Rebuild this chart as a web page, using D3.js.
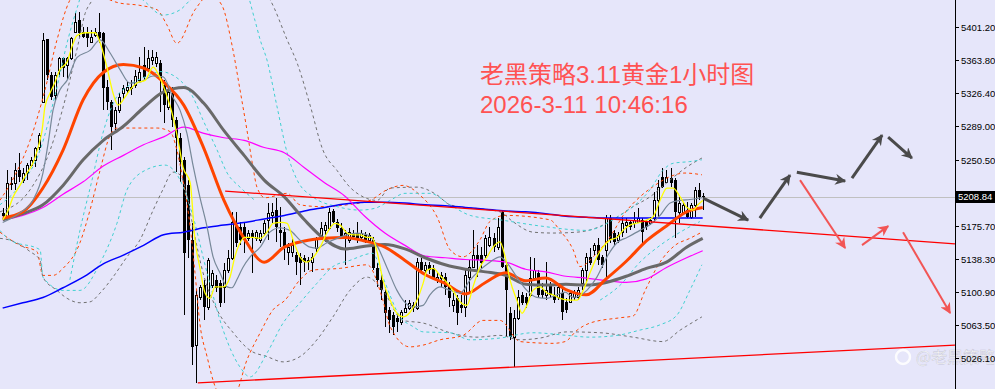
<!DOCTYPE html>
<html>
<head>
<meta charset="utf-8">
<script src="https://cdn.jsdelivr.net/npm/d3@7"></script>
<style>
body { margin: 0; background: #e6e6fa; overflow: hidden; }
</style>
</head>
<body>
<div id="chart"></div>
<script>
// ---- candle data (XAUUSD, 1 hour) ----
var opens = [5191,5186,5225,5225,5240,5228,5236,5245,5251,5265,
5316,5388,5347,5324,5353,5366,5358,5366,5396,5409,
5396,5395,5384,5392,5396,5395,5333,5316,5293,5307,
5327,5330,5333,5336,5341,5358,5355,5364,5361,5361,
5336,5311,5327,5296,5276,5251,5222,5160,5041,5095,
5109,5084,5109,5115,5111,5107,5126,5140,5177,5175,
5175,5162,5168,5162,5160,5168,5183,5188,5194,5172,
5169,5146,5146,5143,5141,5140,5138,5135,5151,5166,
5171,5174,5193,5180,5174,5162,5160,5168,5168,5163,
5166,5160,5160,5128,5115,5101,5081,5075,5072,5067,
5078,5083,5086,5083,5135,5126,5132,5128,5115,5117,
5118,5109,5086,5094,5086,5084,5118,5129,5143,5143,
5143,5154,5162,5152,5192,5132,5077,5050,5072,5098,
5095,5098,5117,5123,5103,5098,5109,5098,5095,5100,
5090,5090,5095,5095,5111,5126,5141,5149,5154,5141,
5149,5185,5168,5160,5169,5177,5180,5179,5180,5183,
5180,5179,5185,5205,5231,5226,5230,5228,5192,5192,
5194,5186,5200,5217,5210];
var highs = [5196,5239,5231,5247,5259,5242,5247,5254,5265,5281,
5395,5388,5350,5350,5367,5367,5367,5390,5417,5418,
5401,5401,5398,5400,5417,5396,5341,5319,5311,5327,
5336,5339,5341,5353,5367,5379,5375,5375,5373,5364,
5341,5332,5333,5299,5281,5254,5228,5179,5103,5109,
5115,5140,5126,5120,5115,5134,5149,5192,5192,5180,
5180,5171,5171,5172,5171,5183,5202,5202,5208,5197,
5175,5157,5162,5146,5145,5143,5141,5145,5163,5180,
5180,5196,5195,5184,5179,5171,5174,5171,5180,5171,
5169,5168,5163,5134,5120,5107,5084,5078,5077,5081,
5092,5092,5090,5140,5140,5135,5135,5132,5123,5124,
5123,5112,5100,5098,5098,5126,5137,5171,5154,5152,
5166,5175,5168,5185,5194,5134,5084,5081,5103,5101,
5100,5141,5140,5126,5111,5135,5112,5107,5109,5107,
5094,5103,5103,5107,5128,5145,5151,5157,5162,5143,
5188,5188,5171,5169,5185,5185,5183,5192,5196,5185,
5183,5186,5214,5228,5242,5239,5242,5230,5209,5202,
5203,5202,5220,5225,5213];
var lows = [5183,5185,5217,5217,5226,5225,5228,5243,5243,5262,
5315,5341,5319,5319,5345,5345,5341,5364,5395,5390,
5389,5379,5383,5390,5383,5307,5307,5262,5285,5304,
5319,5327,5324,5332,5339,5341,5350,5358,5356,5305,
5293,5307,5288,5237,5226,5075,5140,5018,4998,5092,
5069,5081,5106,5101,5084,5089,5123,5137,5152,5154,
5145,5159,5123,5159,5157,5165,5160,5179,5158,5152,
5137,5132,5141,5120,5109,5124,5126,5124,5146,5162,
5158,5171,5179,5169,5162,5132,5157,5160,5157,5160,
5157,5157,5126,5107,5092,5061,5055,5052,5056,5064,
5077,5081,5078,5081,5124,5123,5122,5115,5111,5107,
5098,5084,5078,5064,5077,5073,5100,5128,5118,5128,
5140,5152,5146,5149,5128,5050,5047,5016,5069,5086,
5083,5095,5115,5095,5094,5092,5095,5089,5092,5069,
5077,5089,5092,5092,5103,5112,5132,5143,5132,5128,
5118,5157,5154,5157,5163,5168,5171,5174,5179,5157,
5171,5177,5180,5185,5219,5225,5220,5162,5179,5188,
5185,5184,5186,5205,5194];
var closes = [5187,5225,5222,5239,5231,5236,5245,5251,5264,5279,
5387,5347,5322,5347,5366,5355,5366,5389,5407,5395,
5390,5389,5390,5396,5389,5332,5316,5288,5307,5322,
5332,5333,5331,5346,5350,5345,5366,5367,5367,5341,
5313,5328,5296,5276,5248,5145,5160,5039,5098,5107,
5084,5137,5123,5106,5089,5126,5140,5180,5157,5160,
5160,5168,5162,5169,5168,5179,5191,5192,5175,5168,
5152,5152,5154,5135,5134,5135,5135,5141,5162,5174,
5177,5192,5180,5174,5163,5168,5169,5163,5162,5168,
5160,5166,5128,5115,5103,5077,5069,5061,5067,5078,
5083,5089,5083,5135,5126,5132,5126,5117,5118,5120,
5107,5094,5092,5077,5083,5120,5129,5143,5137,5134,
5162,5163,5152,5175,5129,5103,5050,5072,5095,5089,
5089,5117,5126,5098,5098,5103,5098,5092,5107,5078,
5081,5100,5100,5103,5126,5141,5134,5154,5137,5132,
5185,5160,5158,5166,5179,5180,5175,5183,5185,5169,
5175,5183,5205,5220,5220,5231,5225,5192,5202,5200,
5186,5200,5217,5209,5208.84];
var lastPrice = 5208.84;

// ---- moving averages, [bar index, price] ----
var maYellow = [[0,5183],[1.1,5191],[2.6,5209],[4.3,5222],[6,5236],[7.5,5247],[8.8,5265],[9.8,5285],[10.5,5311],[11.8,5327],
[13,5339],[14.2,5353],[16,5362],[17.2,5379],[18.5,5392],[20.5,5395],[23,5395],[24.2,5384],[25.9,5356],[27.4,5327],
[28.7,5313],[30.4,5322],[31.6,5330],[33.4,5338],[35.4,5341],[37.4,5356],[38.6,5349],[40.3,5330],[42.1,5304],[43.6,5273],
[44.8,5243],[46.6,5225],[47.8,5160],[49,5129],[50.3,5100],[51.5,5094],[52.8,5107],[54.8,5107],[56.5,5118],[57.7,5141],
[59,5157],[60.2,5163],[62.2,5163],[64,5162],[65.7,5169],[67.2,5179],[69.4,5180],[70.7,5179],[72.2,5160],[73.9,5141],
[75.6,5135],[77.1,5140],[78.9,5152],[80.6,5168],[82.6,5179],[83.9,5177],[85.6,5168],[87.1,5166],[88.8,5166],[90.6,5163],
[91.8,5163],[93.1,5146],[94.5,5115],[96.3,5092],[98,5077],[99.5,5073],[101.2,5078],[103,5092],[104.5,5111],[105.5,5126],
[107,5128],[108.7,5120],[110.4,5112],[111.9,5103],[113.7,5090],[115.4,5086],[116.9,5107],[118.6,5129],[120.4,5141],[121.9,5152],
[123.6,5158],[124.9,5141],[126.1,5115],[127.8,5092],[129.1,5077],[130.3,5086],[131.8,5103],[133.6,5107],[135.3,5100],[136.8,5098],
[138.5,5094],[141,5092],[142.8,5092],[144.3,5103],[146,5123],[147.7,5141],[149.2,5152],[150.9,5160],[152.7,5163],[154.2,5171],
[155.9,5177],[158.4,5180],[160.2,5183],[161.6,5186],[163.4,5205],[165.1,5219],[166.6,5219],[168.4,5209],[170.1,5197],[171.6,5194],
[172.8,5200],[174,5205]];
var maSlate = [[0,5180],[4.3,5191],[7.5,5205],[10,5236],[11.3,5270],[12.5,5307],[14.2,5330],[16,5341],[18.5,5367],[21.7,5375],
[24.2,5387],[26.7,5372],[29.2,5353],[31.6,5338],[34.1,5339],[37.4,5346],[39.9,5345],[42.3,5322],[44.1,5307],[45.8,5281],
[47.3,5245],[49,5209],[50.8,5175],[52.3,5141],[54,5123],[55.8,5107],[57,5106],[58.2,5115],[59.7,5129],[61.5,5141],
[64,5152],[66.4,5169],[68.9,5174],[71.4,5171],[73.9,5160],[76.4,5152],[78.1,5151],[80.6,5157],[83.1,5162],[85.6,5166],
[88.1,5168],[90.6,5166],[93,5154],[95.5,5129],[98,5103],[99.5,5092],[102,5084],[104.5,5086],[106.2,5098],[108.7,5107],
[111.2,5103],[113.7,5100],[116.2,5115],[118.6,5126],[121.1,5135],[123.6,5141],[125.4,5134],[127.8,5118],[130.3,5103],[132.8,5095],
[135.3,5094],[137.8,5098],[139.8,5101],[141.8,5095],[145.2,5103],[147.7,5118],[150.2,5141],[152.7,5157],[155.2,5163],[158.4,5171],
[161.6,5180],[163.4,5188],[165.9,5202],[168.4,5205],[170.8,5206],[174,5208]];
var maOrange = [[0,5185],[5,5192],[10,5219],[15,5262],[20,5319],[25,5350],[30,5359],[35,5355],[40,5339],[45,5313],
[50,5264],[55,5205],[60,5162],[65,5135],[70,5152],[75,5159],[80,5162],[85,5163],[90,5159],[95,5152],
[100,5137],[105,5121],[110,5111],[115,5099],[120,5112],[125,5123],[130,5114],[135,5117],[140,5104],[145,5098],
[150,5116],[155,5136],[160,5159],[165,5176],[170,5192],[174,5197]];
var maGray = [[0,5183],[5,5190],[10,5200],[15,5222],[20,5251],[25,5273],[30,5289],[35,5310],[40,5328],[45,5333],
[50,5315],[55,5284],[60,5256],[65,5228],[70,5209],[75,5183],[80,5161],[85,5150],[90,5153],[95,5155],
[100,5150],[105,5140],[110,5132],[115,5127],[120,5124],[125,5120],[130,5110],[135,5109],[140,5110],[145,5109],
[150,5112],[155,5119],[160,5128],[165,5135],[170,5152],[174,5162]];
var maMagenta = [[0,5183],[5,5188],[10,5197],[15,5212],[20,5226],[25,5244],[30,5256],[35,5268],[40,5277],[45,5288],
[50,5281],[55,5276],[60,5273],[65,5265],[70,5259],[75,5242],[80,5225],[85,5210],[90,5187],[95,5168],
[100,5154],[105,5142],[110,5140],[115,5138],[120,5137],[125,5135],[130,5127],[135,5124],[140,5119],[145,5117],
[150,5114],[155,5112],[160,5116],[165,5129],[170,5140],[174,5148]];
var maBlue = [[0,5083],[5,5089],[10,5095],[15,5106],[20,5118],[25,5133],[30,5143],[35,5154],[40,5166],[45,5169],
[50,5174],[55,5177],[60,5180],[65,5184],[70,5188],[75,5193],[80,5197],[85,5201],[90,5203],[95,5203],
[100,5202],[105,5200],[110,5199],[115,5197],[120,5195],[125,5193],[130,5192],[135,5190],[140,5187],[145,5186],
[150,5185],[174,5185]];

// ---- band lines (dashed) ----
var bandOrangeUp = [[-0.7,5205],[3.1,5234],[6.8,5273],[10.5,5330],[13.5,5387],[16.7,5432],[20.5,5449],[24.2,5438],[28.7,5429],[34.1,5426],
[38.4,5421],[40.8,5404],[43.3,5383],[47.8,5421],[51.5,5438],[54.5,5426],[57,5381],[59,5330],[60.7,5285],[62.2,5243],
[63.2,5220],[65.2,5208],[70.7,5213],[73.9,5200],[78.9,5198],[85.6,5200],[91.3,5205],[95.5,5217],[99.5,5222],[103.7,5211],
[108,5186],[111.2,5149],[114.4,5141],[118.6,5160],[121.1,5181],[124.9,5188],[136,5183],[138.5,5171],[141.8,5149],[143.5,5130],
[147.2,5143],[151,5164],[154.7,5191],[158.4,5209],[162.1,5222],[165.9,5232],[169.6,5236],[173.8,5234]];
var bandOrangeLow = [[-0.7,5169],[4.3,5154],[8.5,5147],[10,5120],[12.5,5120],[15,5128],[19.2,5157],[21.7,5194],[24.2,5239],[26.7,5279],
[28.4,5287],[38.4,5287],[41.6,5283],[43.3,5262],[44.8,5228],[46.6,5175],[47.8,5123],[49,5066],[50.8,5028],[52.8,4994],
[55.3,4979],[57.7,4984],[60.7,5024],[64,5055],[67.2,5081],[70.2,5092],[73.9,5115],[77.1,5126],[83.9,5128],[90.6,5132],
[94.5,5092],[96.3,5062],[101.2,5039],[104.5,5041],[108.7,5047],[114.4,5052],[119.4,5069],[123.6,5069],[128.6,5045],[136.8,5043],
[139.8,5045],[142.8,5058],[146,5066],[153.5,5072],[156.7,5074],[159.7,5103],[163.4,5135],[167.1,5154],[170.8,5162],[173.8,5169]];
var bandGrayUp = [[-0.7,5192],[6.8,5217],[11.8,5262],[15.5,5319],[18.7,5381],[20.5,5417],[22.2,5432],[24.2,5455],[61.5,5455],[66.5,5432],
[70.7,5387],[73.4,5358],[76.4,5313],[79.6,5262],[83.1,5239],[86.3,5220],[89.6,5209],[93,5205],[96.3,5219],[103,5220],
[108,5211],[111.2,5200],[123.6,5192],[126.8,5181],[131.8,5169],[136.8,5168],[142.8,5169],[147.7,5174],[152.7,5186],[156.7,5198],
[160.9,5209],[165.1,5225],[170.1,5243],[173.8,5253]];
var bandGrayLow = [[-0.7,5162],[1.8,5160],[6.8,5147],[9.3,5137],[10,5118],[13.5,5103],[16,5094],[19.2,5089],[21.7,5090],[24.2,5100],
[27.4,5118],[30.9,5141],[34.1,5160],[37.4,5194],[39.8,5217],[42.3,5237],[44.1,5234],[45.8,5211],[47.3,5175],[49.8,5123],
[53.3,5081],[57.3,5055],[61.5,5035],[65.7,5028],[69.7,5022],[73.9,5028],[78.1,5047],[82.1,5073],[86.3,5103],[90.6,5118],
[94.5,5103],[99.5,5069],[104.5,5066],[111.2,5055],[117.9,5050],[123.6,5052],[128.6,5047],[133.6,5049],[140.3,5056],[148.5,5055],
[156.7,5050],[164.1,5045],[168.4,5058],[173.8,5073]];
var bandTealUp = [[-0.7,5200],[4.3,5222],[9.3,5262],[13,5324],[16.2,5387],[18.7,5426],[20.5,5449],[31.6,5443],[34.9,5432],[39.8,5415],
[44.1,5421],[46.6,5432],[51.5,5449],[60.2,5443],[62.7,5409],[64,5387],[65.7,5364],[68.2,5311],[70.7,5259],[73.2,5228],
[77.1,5209],[83.1,5198],[88.8,5194],[92.5,5196],[96.3,5205],[100,5213],[106.2,5213],[111.2,5200],[116.2,5188],[123.6,5183],
[133.6,5176],[145.2,5171],[148.5,5175],[152.7,5186],[156.7,5198],[160.9,5217],[164.1,5239],[166.6,5247],[170.8,5249],[173.8,5251]];
var bandTealMid = [[16.7,5115],[19.2,5171],[22.2,5228],[24.9,5281],[27.9,5319],[31.6,5336],[36.6,5347],[39.1,5351],[44.1,5341],[47.3,5322],
[49.8,5296],[53.3,5262],[55.8,5236],[59,5220],[62.7,5205]];
var bandTealLow = [[-0.7,5171],[1.8,5160],[9.3,5149],[10,5118],[15,5103],[19.2,5103],[24.2,5134],[28.4,5179],[30.9,5217],[35.4,5239],
[40.3,5245],[44.1,5228],[46.6,5198],[50.8,5123],[54.8,5058],[59,5016],[61.5,5005],[65.7,5032],[69.7,5066],[73.9,5089],
[78.1,5111],[82.1,5130],[86.3,5137],[92,5145],[94.5,5118],[98.8,5073],[102,5062],[104.5,5056],[111.2,5055],[116.2,5047],
[123.6,5049],[131.8,5055],[140.3,5052],[146,5050],[152.7,5052],[158.4,5058],[163.4,5064],[167.6,5075],[170.8,5103],[173.8,5132]];
var bandTealInner = [[148.5,5092],[153.5,5109],[158.4,5135],[163.4,5154],[168.4,5169],[173.3,5181]];

// ---- drawn annotations: trend lines and arrows ----
var trendLines = [[[55.3,5215.5],[236.7,5155.8]], [[48.5,4998.3],[236.7,5041]]];
var grayArrows = [[[174.1,5207.6],[185.3,5182.7]], [[188.2,5185],[195.7,5233.7]], [[197.4,5237],[209.4,5226.9]],
                  [[211.1,5230.3],[218.6,5279]], [[220.1,5276.7],[226,5253]]];
var redArrows = [[[198.2,5228],[209.4,5151]], [[213.6,5154.3],[220.1,5175.9]], [[223.8,5169],[235.5,5077.3]]];

var tickValues = [5401.20,5363.80,5326.40,5289.00,5250.50,5213.10,5175.70,5138.30,5100.90,5063.50,5026.10,4988.70];
var titleLines = ["老黑策略3.11黄金1小时图", "2026-3-11 10:46:16"];
var watermark = "@老黑策略";

// ---- layout ----
var width = 995, height = 389, axisX = 955;

var svg = d3.select("#chart").append("svg")
	.attr("width", width)
	.attr("height", height)
	.style("display", "block")
	.style("background", "#e6e6fa");

var x = d3.scaleLinear().domain([0, 174]).range([2.7, 702.7]);
var y = d3.scaleLinear().domain([4988.7, 5401.2]).range([391.25, 27.27]);

svg.append("defs").append("clipPath").attr("id", "plotclip")
	.append("rect").attr("x", 0).attr("y", 0).attr("width", axisX).attr("height", height);

var plot = svg.append("g").attr("clip-path", "url(#plotclip)");

// current price line
plot.append("line")
	.attr("x1", 0).attr("x2", axisX)
	.attr("y1", Math.round(y(lastPrice)) + 0.5).attr("y2", Math.round(y(lastPrice)) + 0.5)
	.attr("stroke", "#c0c0c0").attr("stroke-width", 1);

// candles
var candles = opens.map(function(o, i){
	return {i: i, o: o, h: highs[i], l: lows[i], c: closes[i]};
});
var cg = plot.append("g").attr("shape-rendering", "crispEdges");
cg.selectAll(".wick").data(candles).enter().append("line")
	.attr("class", "wick")
	.attr("x1", function(d){ return Math.round(x(d.i)) + 0.5; })
	.attr("x2", function(d){ return Math.round(x(d.i)) + 0.5; })
	.attr("y1", function(d){ return y(Math.max(d.h, d.o, d.c)); })
	.attr("y2", function(d){ return y(Math.min(d.l, d.o, d.c)); })
	.attr("stroke", "black").attr("stroke-width", 1);
cg.selectAll(".body").data(candles).enter().append("rect")
	.attr("class", "body")
	.attr("x", function(d){ return Math.round(x(d.i)) - 1 + (d.c >= d.o ? 0.5 : 0); })
	.attr("width", function(d){ return d.c >= d.o ? 2 : 3; })
	.attr("y", function(d){ return Math.round(y(Math.max(d.o, d.c))) + (d.c >= d.o ? 0.5 : 0); })
	.attr("height", function(d){ return Math.max(1, Math.round(y(Math.min(d.o, d.c))) - Math.round(y(Math.max(d.o, d.c)))); })
	.attr("fill", function(d){ return d.c >= d.o ? "white" : "black"; })
	.attr("stroke", function(d){ return d.c >= d.o ? "black" : "none"; })
	.attr("stroke-width", 1);

// indicator lines
var line = d3.line()
	.x(function(d){ return x(d[0]); })
	.y(function(d){ return y(d[1]); })
	.curve(d3.curveMonotoneX);

function drawLine(data, color, w, dash){
	plot.append("path")
		.datum(data)
		.attr("d", line)
		.attr("fill", "none")
		.attr("stroke", color)
		.attr("stroke-width", w)
		.attr("stroke-dasharray", dash || null);
}

drawLine(bandOrangeUp, "#ff4500", 1, "3,3");
drawLine(bandOrangeLow, "#ff4500", 1, "3,3");
drawLine(bandGrayUp, "#707070", 1, "3,3");
drawLine(bandGrayLow, "#707070", 1, "3,3");
drawLine(bandTealUp, "#40d0d0", 1, "3,3");
drawLine(bandTealMid, "#40d0d0", 1, "3,3");
drawLine(bandTealLow, "#40d0d0", 1, "3,3");
drawLine(bandTealInner, "#40d0d0", 1, "3,3");

drawLine(maBlue, "#0000ff", 1.5);
drawLine(maMagenta, "#ff00ff", 1.2);
drawLine(maGray, "#696969", 3);
drawLine(maOrange, "#ff4500", 3);
drawLine(maSlate, "#778899", 1.2);
drawLine(maYellow, "#ffff00", 1.3);

// trend lines
plot.selectAll(".trend").data(trendLines).enter().append("line")
	.attr("class", "trend")
	.attr("x1", function(d){ return x(d[0][0]); })
	.attr("y1", function(d){ return y(d[0][1]); })
	.attr("x2", function(d){ return x(d[1][0]); })
	.attr("y2", function(d){ return y(d[1][1]); })
	.attr("stroke", "#ff0000").attr("stroke-width", 1.3);

// arrows
var defs = svg.select("defs");
function addMarker(id, color){
	defs.append("marker").attr("id", id)
		.attr("viewBox", "0 0 10 10").attr("refX", 9).attr("refY", 5)
		.attr("markerWidth", 14).attr("markerHeight", 11)
		.attr("markerUnits", "userSpaceOnUse")
		.attr("orient", "auto")
		.append("path").attr("d", "M0,0 L10,5 L0,10 L3,5 Z").attr("fill", color);
}
addMarker("headGray", "#4a4a4a");
addMarker("headRed", "#f25555");

plot.selectAll(".garrow").data(grayArrows).enter().append("line")
	.attr("class", "garrow")
	.attr("x1", function(d){ return x(d[0][0]); })
	.attr("y1", function(d){ return y(d[0][1]); })
	.attr("x2", function(d){ return x(d[1][0]); })
	.attr("y2", function(d){ return y(d[1][1]); })
	.attr("stroke", "#4a4a4a").attr("stroke-width", 3)
	.attr("marker-end", "url(#headGray)");
plot.selectAll(".rarrow").data(redArrows).enter().append("line")
	.attr("class", "rarrow")
	.attr("x1", function(d){ return x(d[0][0]); })
	.attr("y1", function(d){ return y(d[0][1]); })
	.attr("x2", function(d){ return x(d[1][0]); })
	.attr("y2", function(d){ return y(d[1][1]); })
	.attr("stroke", "#f25555").attr("stroke-width", 2)
	.attr("marker-end", "url(#headRed)");

// title text
svg.selectAll(".title").data(titleLines).enter().append("text")
	.attr("class", "title")
	.attr("x", 480)
	.attr("y", function(d, i){ return 83 + i * 30; })
	.attr("fill", "#ff5252")
	.style("font-family", "'Liberation Sans', 'Noto Sans CJK SC', sans-serif")
	.style("font-size", "24px")
	.text(function(d){ return d; });

// watermark
var wm = svg.append("g").attr("opacity", 0.9);
wm.append("circle").attr("cx", 903).attr("cy", 357).attr("r", 7)
	.attr("fill", "none").attr("stroke", "white").attr("stroke-width", 2.5);
wm.append("text").attr("x", 916).attr("y", 363)
	.attr("fill", "white").attr("stroke", "rgba(120,120,140,0.35)").attr("stroke-width", 0.6)
	.style("font-family", "'Noto Sans CJK SC', sans-serif")
	.style("font-size", "16px")
	.text(watermark);

// price axis
var axis = svg.append("g").attr("shape-rendering", "crispEdges");
axis.append("line")
	.attr("x1", axisX + 0.5).attr("x2", axisX + 0.5)
	.attr("y1", 0).attr("y2", height)
	.attr("stroke", "black");
var ticks = axis.selectAll(".tick").data(tickValues).enter().append("g").attr("class", "tick");
ticks.append("line")
	.attr("x1", axisX).attr("x2", axisX + 4)
	.attr("y1", function(d){ return Math.round(y(d)) + 0.5; })
	.attr("y2", function(d){ return Math.round(y(d)) + 0.5; })
	.attr("stroke", "black");
ticks.append("text")
	.attr("x", axisX + 6)
	.attr("y", function(d){ return y(d); })
	.attr("dy", "0.35em")
	.attr("fill", "black")
	.style("font-family", "'Liberation Sans', Arial, sans-serif")
	.style("font-size", "9.5px")
	.text(function(d){ return d.toFixed(2); });

// last price label
var ly = y(lastPrice);
axis.append("rect")
	.attr("x", axisX + 1).attr("y", Math.round(ly) - 6)
	.attr("width", width - axisX - 1).attr("height", 12)
	.attr("fill", "black");
axis.append("text")
	.attr("x", axisX + 3).attr("y", ly).attr("dy", "0.35em")
	.attr("fill", "white")
	.style("font-family", "'Liberation Sans', Arial, sans-serif")
	.style("font-size", "9.5px")
	.text(lastPrice.toFixed(2));
</script>
</body>
</html>
